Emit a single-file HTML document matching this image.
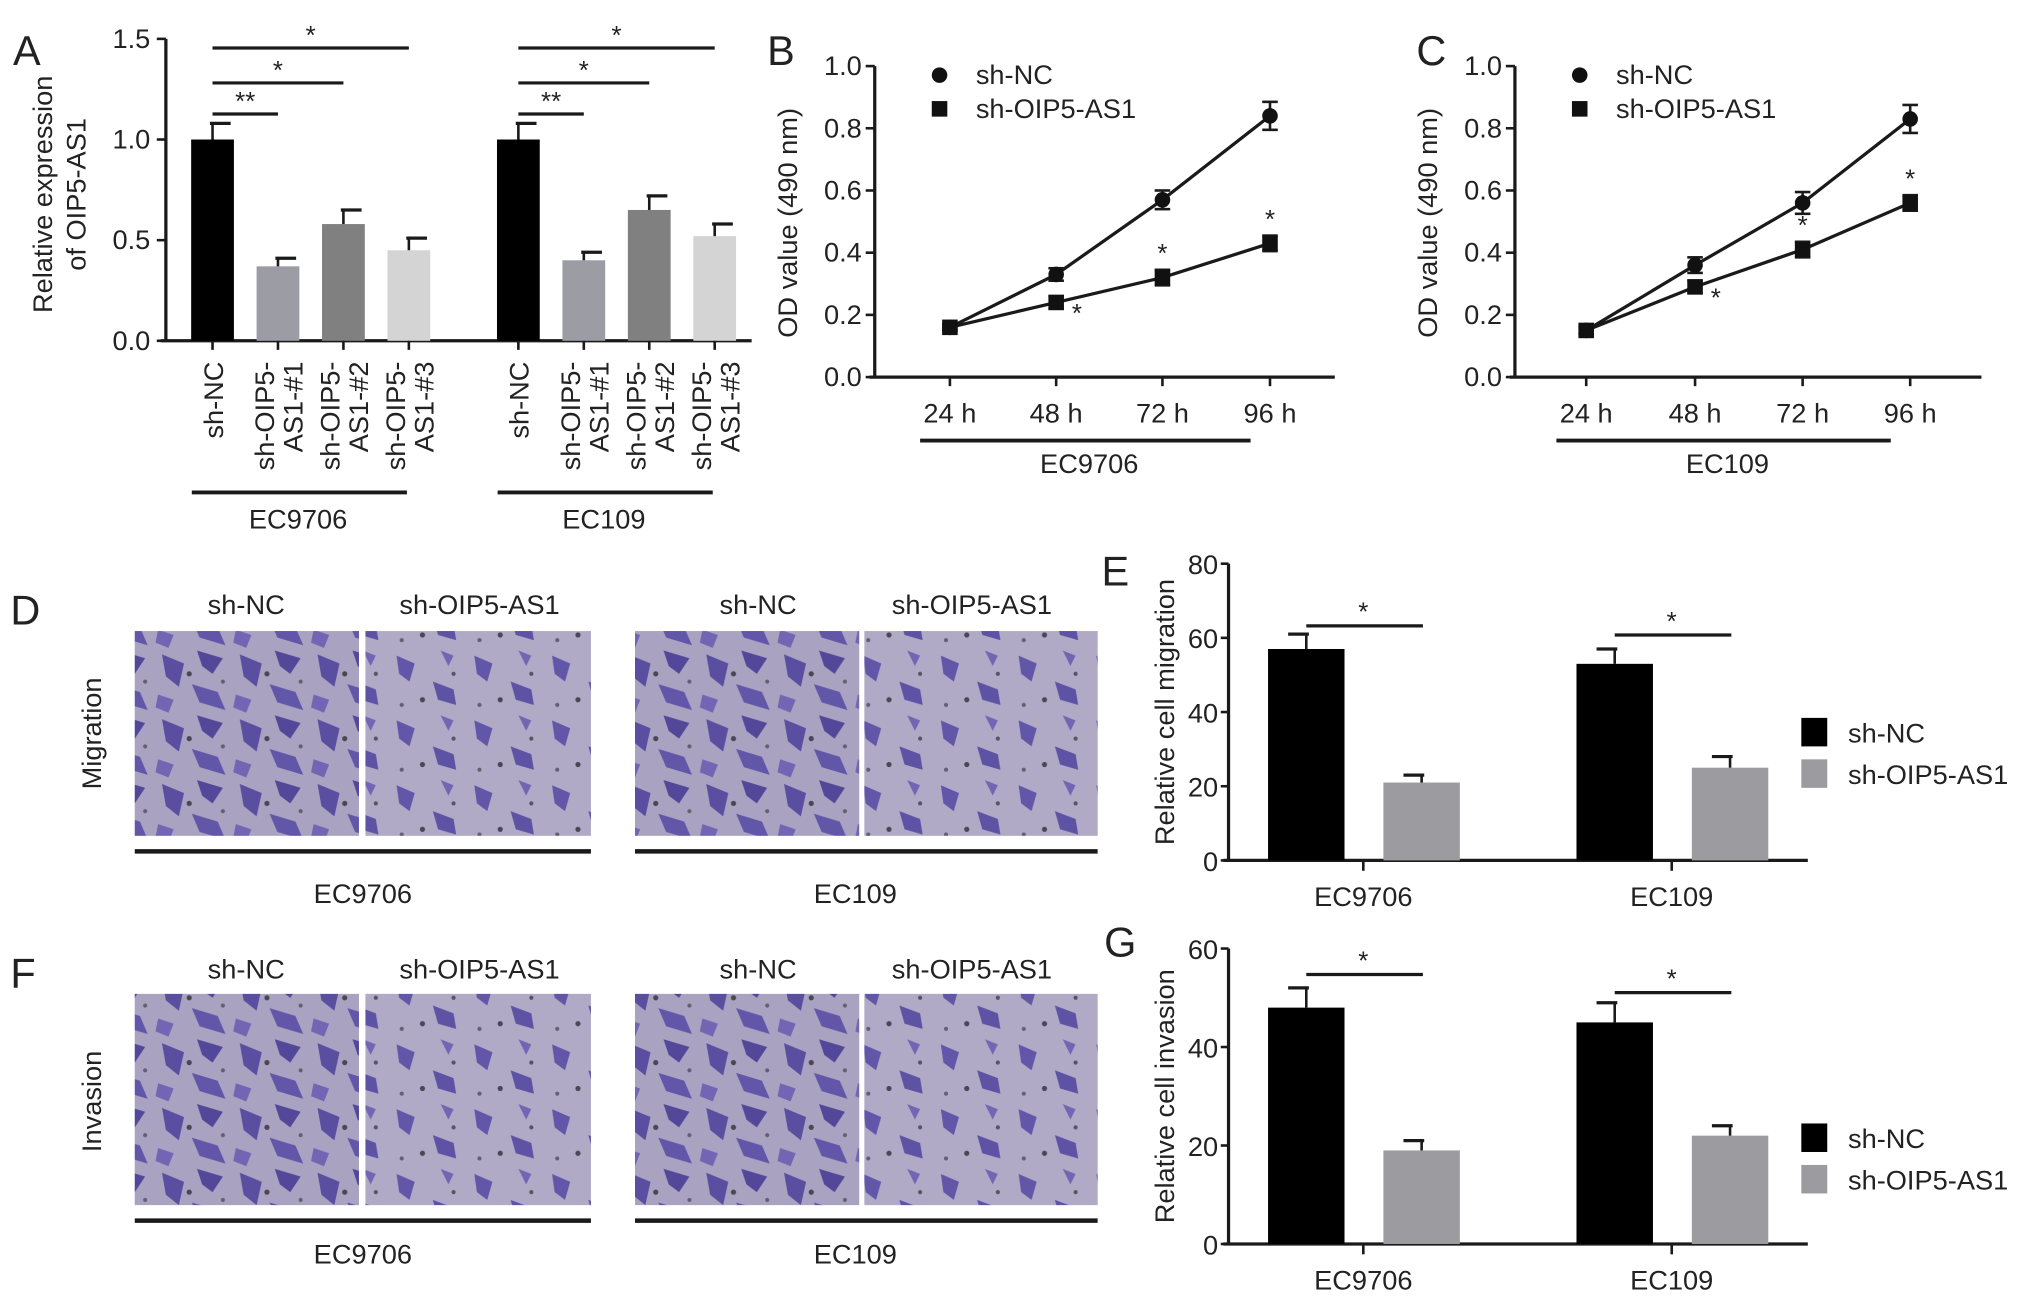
<!DOCTYPE html>
<html><head><meta charset="utf-8"><style>
html,body{margin:0;padding:0;background:#fff}
svg{display:block}
text{font-family:"Liberation Sans",Arial,sans-serif;fill:#222}
</style></head><body>
<svg id="fig" width="2032" height="1301" viewBox="0 0 1568 1004" preserveAspectRatio="none" xmlns="http://www.w3.org/2000/svg">
<defs>
<pattern id="cells" width="60" height="50" patternUnits="userSpaceOnUse">
<rect width="60" height="50" fill="#b4adc6"/>
<path d="M5 5 L22 12 L18 30 L8 22Z" fill="#4a3d9a"/>
<path d="M32 2 L52 8 L44 20 L36 14Z" fill="#3f3390"/>
<path d="M28 28 L48 34 L54 48 L34 42Z" fill="#5547a6"/>
<path d="M2 36 L14 40 L10 50 L0 46Z" fill="#6a5db4"/>
<circle cx="26" cy="20" r="2" fill="#333"/>
<circle cx="52" cy="26" r="1.6" fill="#555"/>
</pattern>
<pattern id="cells2" width="60" height="50" patternUnits="userSpaceOnUse">
<rect width="60" height="50" fill="#bdb7cc"/>
<path d="M6 6 L20 12 L16 26 L8 20Z" fill="#5547a6"/>
<path d="M34 26 L50 32 L52 44 L38 40Z" fill="#4f42a0"/>
<path d="M40 2 L50 6 L46 14Z" fill="#6a5db4"/>
<circle cx="26" cy="40" r="2" fill="#333"/>
<circle cx="50" cy="20" r="1.6" fill="#444"/>
<circle cx="10" cy="44" r="1.6" fill="#555"/>
</pattern>
</defs>
</svg>
<script>
// ===== Panel A data =====
const aCategories = ["sh-NC","sh-OIP5-AS1-#1","sh-OIP5-AS1-#2","sh-OIP5-AS1-#3"];
const aGroups = ["EC9706","EC109"];
const aValuesEC9706 = [1.0,0.37,0.58,0.45];
const aErrEC9706 = [0.08,0.04,0.07,0.06];
const aValuesEC109 = [1.0,0.40,0.65,0.52];
const aErrEC109 = [0.08,0.04,0.07,0.06];
const aTicks = [0.0,0.5,1.0,1.5];
const aTickLabels = ["0.0","0.5","1.0","1.5"];
// ===== Panel B/C data =====
const timeLabels = ["24 h","48 h","72 h","96 h"];
const odTicks = [0.0,0.2,0.4,0.6,0.8,1.0];
const odTickLabels = ["0.0","0.2","0.4","0.6","0.8","1.0"];
const bNC = [0.16,0.33,0.57,0.84];
const bNCerr = [0.01,0.02,0.03,0.045];
const bSH = [0.16,0.24,0.32,0.43];
const bSHerr = [0.01,0.02,0.025,0.025];
const cNC = [0.15,0.36,0.56,0.83];
const cNCerr = [0.01,0.025,0.035,0.045];
const cSH = [0.15,0.29,0.41,0.56];
const cSHerr = [0.01,0.02,0.025,0.025];
// ===== Panel E/G data =====
const cellLines = ["EC9706","EC109"];
const eNC = [57,53];
const eNCerr = [4,4];
const eSH = [21,25];
const eSHerr = [2,3];
const eTicks = [0,20,40,60,80];
const gNC = [48,45];
const gNCerr = [4,4];
const gSH = [19,22];
const gSHerr = [2,2];
const gTicks = [0,20,40,60];

const NS="http://www.w3.org/2000/svg";
const svg=document.getElementById('fig');
function el(tag,attrs,parent,txt){const e=document.createElementNS(NS,tag);for(const k in attrs)e.setAttribute(k,attrs[k]);if(txt!==undefined)e.textContent=txt;(parent||svg).appendChild(e);return e;}
function line(x1,y1,x2,y2,w,p){return el('line',{x1,y1,x2,y2,stroke:'#1a1a1a','stroke-width':w||2},p);}
function txt(x,y,s,size,anchor,p,extra){const a={x,y,'font-size':size,'text-anchor':anchor||'middle'};if(extra)for(const k in extra)a[k]=extra[k];return el('text',a,p,s);}
function group(name){const g=el('g',{});return g;}

// Panel letters
[["A",10,50],["B",592,50],["C",1093,50],["D",8,482],["E",850,452],["F",8,762],["G",852,738]].forEach(([l,x,y])=>{
 const t=txt(x,y,l,32,'start');});

// ===== Panel A =====
(function(){
 const g=group('panel-a-bar-chart');
 const x0=128,y0=263,yTop=30,xEnd=580;
 const ys=v=>y0-(v/1.5)*(y0-yTop);
 line(x0,yTop,x0,y0,2.5,g);line(x0-4,y0,xEnd,y0,2.5,g);
 aTicks.forEach((t,i)=>{line(x0-7,ys(t),x0,ys(t),2,g);const tl=txt(x0-12,ys(t)+7,aTickLabels[i],21,'end',g);});
 const yt=el('text',{transform:'translate(40,150) rotate(-90)','font-size':21,'text-anchor':'middle'},g,'Relative expression');
 
 el('text',{transform:'translate(66,150) rotate(-90)','font-size':21,'text-anchor':'middle'},g,'of OIP5-AS1');
 const colors=['#000','#9c9ca4','#808080','#d4d4d4'];
 const groupStart=[164,400];const step=50.5;const bw=33;
 const vals=[aValuesEC9706,aValuesEC109],errs=[aErrEC9706,aErrEC109];
 const sigY=[[88,'**',1],[64,'*',2],[37,'*',3]];
 groupStart.forEach((gs,gi)=>{
  aCategories.forEach((c,ci)=>{
   const cx=gs+ci*step,v=vals[gi][ci],e=errs[gi][ci];
   const r=el('rect',{x:cx-bw/2,y:ys(v),width:bw,height:y0-ys(v),fill:colors[ci]},g);
   
   line(cx,ys(v),cx,ys(v+e),2,g);line(cx-2,ys(v+e),cx+14,ys(v+e),2.5,g);
   line(cx,y0,cx,y0+7,2,g);
   if(ci===0){el('text',{transform:`translate(${cx+8},${279}) rotate(-90)`,'font-size':21,'text-anchor':'end'},g,'sh-NC');}
   else{el('text',{transform:`translate(${cx-3},${279}) rotate(-90)`,'font-size':21,'text-anchor':'end'},g,'sh-OIP5-');
        el('text',{transform:`translate(${cx+19},${279}) rotate(-90)`,'font-size':21,'text-anchor':'end'},g,'AS1-#'+ci);}
  });
  sigY.forEach(([y,s,k])=>{line(gs,y,gs+k*step,y,2.5,g);txt(gs+k*step/2,y-3,s,20,'middle',g);});
  line(gs-16,380,gs+150,380,3,g);
  const gl=txt(gs+66,408,aGroups[gi],21,'middle',g);
 });
})();

// ===== Line charts B & C =====
function lineChart(name,x0,xEnd,xs,nc,ncErr,sh,shErr,groupLabel,stars){
 const g=group(name);
 const y0=291,yTop=51;const ys=v=>y0-v*(y0-yTop);
 line(x0,yTop,x0,y0,2.5,g);line(x0-4,y0,xEnd,y0,2.5,g);
 odTicks.forEach((t,i)=>{line(x0-7,ys(t),x0,ys(t),2,g);txt(x0-10,ys(t)+7,odTickLabels[i],21,'end',g);});
 const yt=el('text',{transform:`translate(${x0-60},172) rotate(-90)`,'font-size':21,'text-anchor':'middle'},g,'OD value (490 nm)');
 
 timeLabels.forEach((t,i)=>{line(xs[i],y0,xs[i],y0+7,2,g);txt(xs[i],326,t,21,'middle',g);});
 [[nc,ncErr,'circle'],[sh,shErr,'square']].forEach(([vals,errs,shape])=>{
  let d='';vals.forEach((v,i)=>{d+=(i?'L':'M')+xs[i]+' '+ys(v);});
  const p=el('path',{d,fill:'none',stroke:'#1a1a1a','stroke-width':2.5},g);
  
  vals.forEach((v,i)=>{
   const x=xs[i],y=ys(v),e=errs[i];
   line(x,ys(v-e),x,ys(v+e),2,g);line(x-6,ys(v+e),x+6,ys(v+e),2,g);line(x-6,ys(v-e),x+6,ys(v-e),2,g);
   let m;
   if(shape==='circle')m=el('circle',{cx:x,cy:y,r:6,fill:'#111'},g);
   else m=el('rect',{x:x-6,y:y-6,width:12,height:12,fill:'#111'},g);
   
  });
 });
 stars.forEach(i=>{const off=i===1?16:0;txt(xs[i]+off,ys(sh[i]+shErr[i])-6+(i===1?26:0),'*',20,'middle',g);});
 line(xs[0]-23,340,xs[3]-15,340,3,g);
 txt((xs[0]+xs[3])/2-16,365,groupLabel,21,'middle',g);
 // legend
 el('circle',{cx:x0+50,cy:58,r:6,fill:'#111'},g);
 txt(x0+78,65,'sh-NC',21,'start',g);
 el('rect',{x:x0+44,y:78,width:12,height:12,fill:'#111'},g);
 txt(x0+78,91,'sh-OIP5-AS1',21,'start',g);
}
lineChart('panel-b-line-chart',675,1030,[733,815,897,980],bNC,bNCerr,bSH,bSHerr,'EC9706',[1,2,3]);
lineChart('panel-c-line-chart',1169,1529,[1224,1308,1391,1474],cNC,cNCerr,cSH,cSHerr,'EC109',[1,2,3]);

// ===== Micrographs D & F =====
function micro(name,yImg,hImg,yHdr,yLine,yLbl,rowLabel,yRow){
 const g=group(name);
 const cols=[[104,277,'url(#cells)'],[282,456,'url(#cells2)'],[490,663,'url(#cells)'],[667,847,'url(#cells2)']];
 cols.forEach(([a,b,f],i)=>{
  const r=el('rect',{x:a,y:yImg,width:b-a,height:hImg,fill:f},g);
  
  el('rect',{x:a,y:yImg,width:b-a,height:hImg,fill:'#8d85b3',opacity:0.25},g);
 });
 txt(190,yHdr,'sh-NC',21,'middle',g);txt(370,yHdr,'sh-OIP5-AS1',21,'middle',g);
 txt(585,yHdr,'sh-NC',21,'middle',g);txt(750,yHdr,'sh-OIP5-AS1',21,'middle',g);
 line(104,yLine,456,yLine,3.5,g);line(490,yLine,847,yLine,3.5,g);
 txt(280,yLbl,'EC9706',21,'middle',g);txt(660,yLbl,'EC109',21,'middle',g);
 const rl=el('text',{transform:`translate(78,${yRow}) rotate(-90)`,'font-size':21,'text-anchor':'middle'},g,rowLabel);
 
}
micro('panel-d-migration-images',487,158,474,657,697,'Migration',566);
micro('panel-f-invasion-images',767,163,755,942,975,'Invasion',850);

// ===== Bar charts E & G =====
function barChart(name,yTop,y0,ticks,nc,ncErr,sh,shErr,title,sigYs,legY){
 const g=group(name);
 const x0=948,xEnd=1395,max=ticks[ticks.length-1];
 const ys=v=>y0-(v/max)*(y0-yTop);
 line(x0,yTop,x0,y0,2.5,g);line(x0-4,y0,xEnd,y0,2.5,g);
 ticks.forEach(t=>{line(x0-6,ys(t),x0,ys(t),2,g);txt(x0-8,ys(t)+8,String(t),21,'end',g);});
 const yt=el('text',{transform:`translate(906,${(yTop+y0)/2}) rotate(-90)`,'font-size':21,'text-anchor':'middle'},g,title);
 
 const centers=[1052,1290],bw=59;
 cellLines.forEach((c,i)=>{
  const cx=centers[i];
  [[nc,ncErr,cx-44,'#000','sh-nc'],[sh,shErr,cx+45,'#9c9ca0','sh-oip5-as1']].forEach(([v,e,bx,col,s])=>{
   const r=el('rect',{x:bx-bw/2,y:ys(v[i]),width:bw,height:y0-ys(v[i]),fill:col},g);
   
   line(bx,ys(v[i]),bx,ys(v[i]+e[i]),2,g);line(bx-14,ys(v[i]+e[i]),bx+2,ys(v[i]+e[i]),2.5,g);
  });
  line(cx,y0,cx,y0+8,2,g);
  txt(cx,y0+35,c,21,'middle',g);
  line(cx-44,sigYs[i],cx+46,sigYs[i],2.5,g);txt(cx,sigYs[i]-4,'*',20,'middle',g);
 });
 const l1=el('rect',{x:1390,y:legY-11,width:20,height:22,fill:'#000'},g);
 
 txt(1426,legY+8,'sh-NC',21,'start',g);
 el('rect',{x:1390,y:legY+21,width:20,height:22,fill:'#9c9ca0'},g);
 txt(1426,legY+40,'sh-OIP5-AS1',21,'start',g);
}
barChart('panel-e-bar-chart',435,664,eTicks,eNC,eNCerr,eSH,eSHerr,'Relative cell migration',[483,490],565);
barChart('panel-g-bar-chart',732,960,gTicks,gNC,gNCerr,gSH,gSHerr,'Relative cell invasion',[752,766],878);
</script>
</body></html>
